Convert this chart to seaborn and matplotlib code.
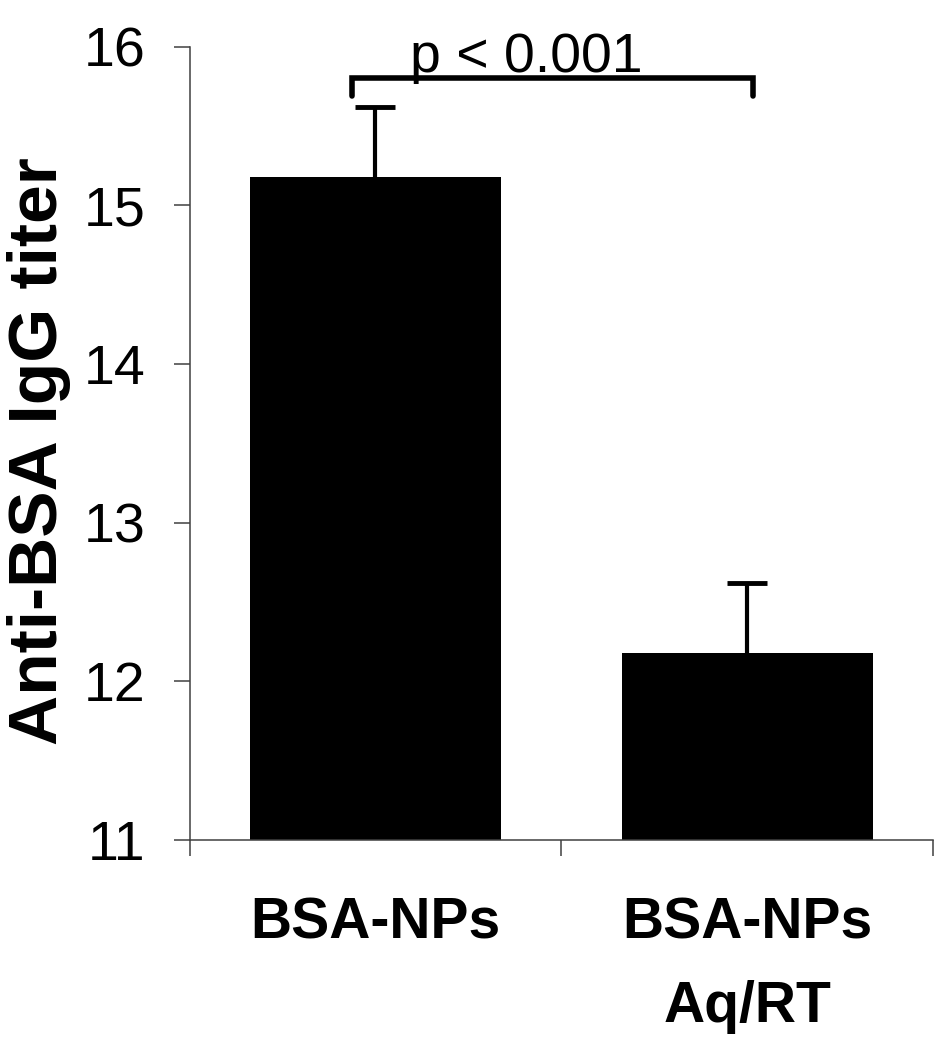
import matplotlib
matplotlib.use("Agg")
import matplotlib.pyplot as plt
import seaborn as sns
import pandas as pd

# values
groups = ["BSA-NPs", "BSA-NPs\nAq/RT"]
titer_mean = [15.18, 12.18]
titer_sem = [0.44, 0.44]
y_ticks = [11, 12, 13, 14, 15, 16]
p_label = "p < 0.001"

sns.set_style("white")
plt.rcParams["font.family"] = ["Liberation Sans", "DejaVu Sans"]
plt.rcParams["text.color"] = "black"
plt.rcParams["xtick.labelcolor"] = "black"
plt.rcParams["ytick.labelcolor"] = "black"

df = pd.DataFrame({"group": groups, "titer": titer_mean})

fig = plt.figure(figsize=(9.48, 10.5), dpi=100)
ax = fig.add_axes([0.2, 0.2, 0.7843, 0.7555])

sns.barplot(data=df, x="group", y="titer", color="black", width=0.675,
            edgecolor="black", linewidth=0, saturation=1, ax=ax)

# upper error bars only
eb = ax.errorbar(range(len(groups)), titer_mean, yerr=[[0] * len(groups), titer_sem],
                 fmt="none", ecolor="black", elinewidth=3, capsize=14.5, capthick=3.5)
eb[1][0].set_visible(False)  # hide the lower cap sitting on the bar top

ax.set_ylim(11, 16)
ax.set_xlim(-0.5, 1.5)
ax.set_yticks(y_ticks)
ax.set_yticklabels([str(t) for t in y_ticks], fontsize=40, color="black")

# category separators as major ticks, labels on minor ticks
ax.set_xticks([-0.5, 0.5, 1.5])
ax.set_xticklabels([])
ax.set_xticks([0, 1], minor=True)
ax.set_xticklabels(groups, minor=True, fontsize=41, fontweight="bold",
                   linespacing=1.68, color="black")
ax.tick_params(axis="x", which="minor", length=0, pad=41)
ax.tick_params(axis="x", which="major", direction="out", length=11.5, width=1.1,
               color="#404040", bottom=True)
ax.tick_params(axis="y", direction="out", length=11.5, width=1.1, color="#404040",
               pad=20, left=True)

for side in ["top", "right"]:
    ax.spines[side].set_visible(False)
for side in ["left", "bottom"]:
    ax.spines[side].set_color("#404040")
    ax.spines[side].set_linewidth(1.1)

ax.set_xlabel("")
ax.set_ylabel("Anti-BSA IgG titer", fontsize=50, fontweight="bold", va="center",
              color="black")
ax.yaxis.set_label_coords(-0.2024, 0.49)

# significance bracket
bx0, bx1, by_top, by_bot = -0.063, 1.016, 15.80, 15.69
ax.plot([bx0, bx0, bx1, bx1], [by_bot, by_top, by_top, by_bot], color="black",
        lw=4, solid_joinstyle="miter", clip_on=False)
ax.text(0.405, 15.84, p_label, fontsize=40, ha="center", va="baseline")

fig.savefig("out.png", dpi=100)
